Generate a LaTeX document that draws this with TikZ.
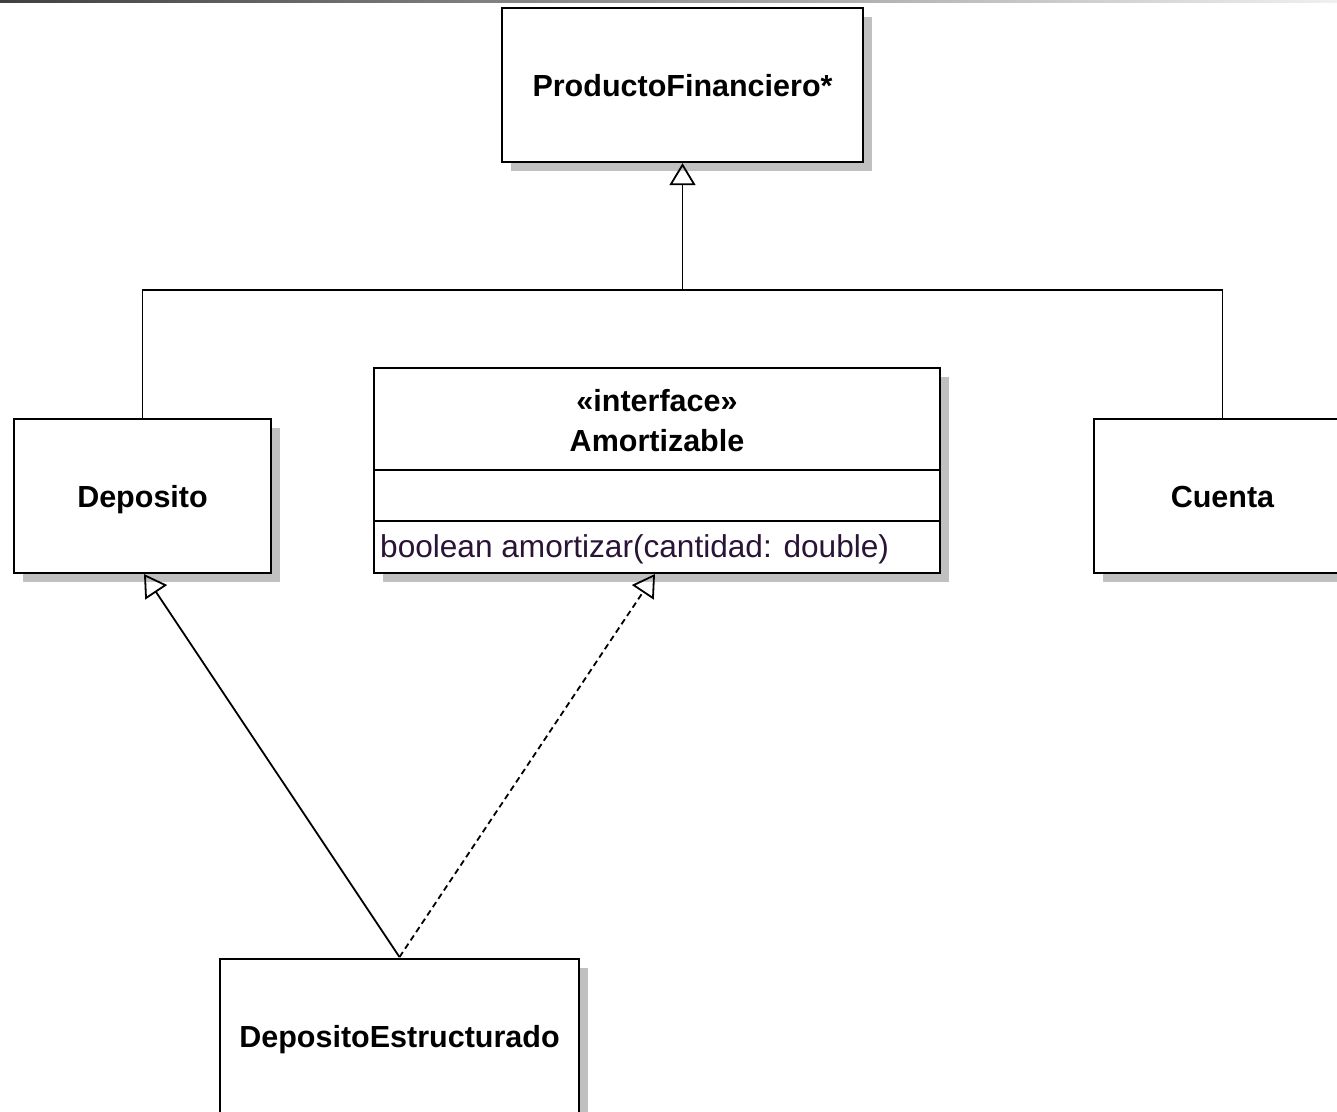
\documentclass[tikz,border=0pt]{standalone}
\usepackage{fontspec}
\setmainfont{Liberation Sans}
\usetikzlibrary{arrows.meta,shadows,calc}

\definecolor{shadowgray}{HTML}{C0C0C0}
\definecolor{methodtext}{HTML}{2A1436}

\begin{document}
\begin{tikzpicture}[x=1pt,y=-1pt,
  classbox/.style={draw=black, line width=2.3pt, fill=white, inner sep=0pt,
    general shadow={fill=shadowgray, shadow xshift=9pt, shadow yshift=-9pt},
    text height=22pt, text depth=0pt,
    font=\fontsize{30.5}{34}\selectfont\bfseries},
  label/.style={inner sep=0pt, text height=22pt, text depth=0pt,
    font=\fontsize{30.5}{34}\selectfont\bfseries},
  member/.style={inner sep=0pt, anchor=west, text=methodtext,
    font=\fontsize{31.6}{34}\selectfont},
  connector/.style={line width=1.8pt, draw=black},
  inherits/.style={connector, -{Triangle[open, length=22pt, width=26pt, line width=1.8pt]}},
  realizes/.style={inherits, dash pattern=on 6pt off 4pt}
]
\useasboundingbox (0,0) rectangle (1337,1111);
\clip (0,0) rectangle (1337,1111);
\fill[white] (0,0) rectangle (1337,1111);

% thin rule along the top edge
\shade[left color=black!75, right color=white!94!black] (0,0) rectangle (1337,2);

% classes
\node[classbox, minimum width=361pt, minimum height=154pt] (pf) at (682.5,85) {ProductoFinanciero*};
\node[classbox, minimum width=257pt, minimum height=154pt] (dep) at (142.5,496) {Deposito};
\node[classbox, minimum width=257pt, minimum height=154pt] (cue) at (1222.5,496) {Cuenta};
\node[classbox, minimum width=359pt, minimum height=154pt] (de) at (399.5,1036) {DepositoEstructurado};

% interface with its compartments
\node[classbox, minimum width=566pt, minimum height=205pt] (am) at (657,470.5) {};
\node[label] (amster) at (657,400) {«interface»};
\node[label] (amname) at (657,440) {Amortizable};
\coordinate (div1) at (0,470);
\coordinate (div2) at (0,521);
\draw[line width=2pt] (am.west |- div1) -- (am.east |- div1);
\draw[line width=2pt] (am.west |- div2) -- (am.east |- div2);
\node[member] (ammeth) at (380,549) {boolean amortizar(cantidad: double)};

% generalization tree to ProductoFinanciero
\coordinate (bus) at (682.5,290);
\draw[connector] (dep.north) |- (bus) -| (cue.north);
\draw[inherits] (bus) -- (pf.south);

% DepositoEstructurado extends Deposito and implements Amortizable
\coordinate (deTop) at (399.5,957);
\coordinate (depTip) at (144,574);
\coordinate (amTip) at (655,574);
\draw[inherits] (deTop) -- (depTip);
\draw[realizes] (deTop) -- (amTip);
\end{tikzpicture}
\end{document}
